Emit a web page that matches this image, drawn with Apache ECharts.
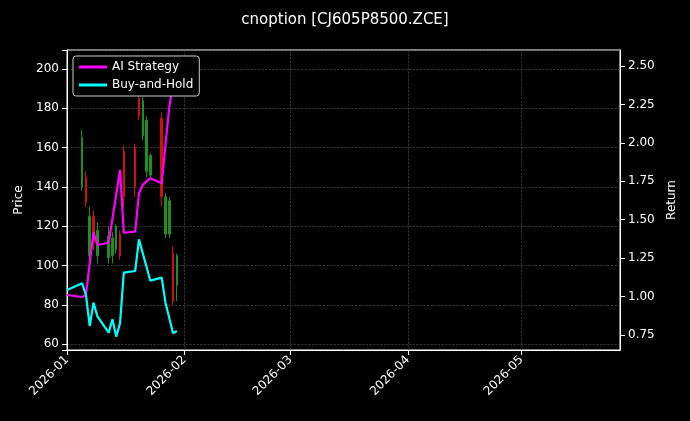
<!DOCTYPE html>
<html>
<head>
<meta charset="utf-8">
<script src="https://cdn.jsdelivr.net/npm/echarts@6/dist/echarts.min.js"></script>
<style>html,body{margin:0;background:#000}#main{width:690px;height:421px}</style>
</head>
<body>
<div id="main"></div>
<script>
// K线数据 [日期, 开, 收, 低, 高]
var candleDates = ['2026-01-05','2026-01-06','2026-01-07','2026-01-08','2026-01-09','2026-01-12','2026-01-13','2026-01-14','2026-01-15','2026-01-16','2026-01-19','2026-01-20','2026-01-21','2026-01-22','2026-01-23','2026-01-26','2026-01-27','2026-01-28','2026-01-29','2026-01-30'];
var candleOpen  = [140,145,105,125,105,104,105,108,116,158,160,185,166,148,146,175,116,116,106,90];
var candleClose = [165,132,125,112,118,115,114,120,105,135,140,176,184,174,156,135,135,133,82,105];
var candleLow   = [138,130,101,108,101,101,101,106,103,130,135,174,164,145,145,130,114,114,80,82];
var candleHigh  = [169,148,130,128,122,120,117,121,118,161,162,188,186,176,157,178,137,135,110,106];
// 策略收益
var aiDates = ['2026-01-01','2026-01-05','2026-01-06','2026-01-08','2026-01-09','2026-01-12','2026-01-15','2026-01-16','2026-01-19','2026-01-20','2026-01-21','2026-01-23','2026-01-26','2026-01-28','2026-01-30'];
var aiVals  = [1.01,0.997,1.01,1.42,1.335,1.35,1.823,1.415,1.422,1.672,1.726,1.77,1.737,2.235,2.52];
// 买入持有收益
var bhDates = ['2026-01-01','2026-01-05','2026-01-06','2026-01-07','2026-01-08','2026-01-09','2026-01-12','2026-01-13','2026-01-14','2026-01-15','2026-01-16','2026-01-19','2026-01-20','2026-01-23','2026-01-26','2026-01-27','2026-01-29','2026-01-30'];
var bhVals  = [1.043,1.086,1.01,0.808,0.96,0.873,0.765,0.852,0.739,0.826,1.155,1.166,1.372,1.103,1.123,0.96,0.761,0.776];
// 右轴刻度
var returnTicks = [0.75,1.00,1.25,1.50,1.75,2.00,2.25,2.50];

function zip(d, v){ var r=[]; for(var i=0;i<d.length;i++){ r.push([d[i], v[i]]); } return r; }
var candles = [];
for (var i=0;i<candleDates.length;i++){
    candles.push([candleDates[i], candleOpen[i], candleClose[i], candleLow[i], candleHigh[i]]);
}

var myChart = echarts.init(document.getElementById('main'));
var gridLine = {show:true, lineStyle:{color:'#555', type:'dashed', width:0.6}};
var option = {
    backgroundColor:'#000',
    animation:false,
    textStyle:{fontFamily:'DejaVu Sans'},
    title:{text:'cnoption [CJ605P8500.ZCE]', left:'center', top:8,
        textStyle:{color:'#fff', fontSize:15, fontWeight:'normal', fontFamily:'DejaVu Sans'}},
    legend:{left:73, top:56, z:20, orient:'vertical', itemGap:6, itemWidth:28, itemHeight:3,
        backgroundColor:'#000', borderColor:'#ccc', borderWidth:1, borderRadius:3, padding:[5,6],
        textStyle:{color:'#fff', fontSize:12},
        data:[{name:'AI Strategy', icon:'rect'},{name:'Buy-and-Hold', icon:'rect'}]},
    grid:{left:67, right:70, top:50, bottom:71, show:true, borderColor:'#fff', borderWidth:1},
    xAxis:{type:'time', min:'2026-01-01', max:'2026-05-27',
        minInterval:28*86400000, maxInterval:31*86400000,
        axisLine:{lineStyle:{color:'#fff'}}, axisTick:{lineStyle:{color:'#fff'}},
        axisLabel:{color:'#fff', fontSize:12, rotate:45, formatter:'{yyyy}-{MM}', hideOverlap:false},
        splitLine:gridLine},
    yAxis:[
        {type:'value', name:'Price', nameLocation:'middle', nameGap:40, nameTextStyle:{color:'#fff', fontSize:12},
         min:57, max:209.7, splitNumber:8,
         axisLine:{show:true, lineStyle:{color:'#fff'}}, axisTick:{show:true, lineStyle:{color:'#fff'}},
         axisLabel:{color:'#fff', fontSize:12, formatter:function(v){ return Math.abs(v%20)<1e-6 ? String(v) : ''; }},
         splitLine:gridLine},
        {type:'value', name:'Return', nameLocation:'middle', nameGap:42, nameRotate:90, nameTextStyle:{color:'#fff', fontSize:12},
         min:0.652, max:2.604,
         axisLine:{show:true, lineStyle:{color:'#fff'}},
         axisTick:{show:true, customValues:returnTicks, lineStyle:{color:'#fff'}},
         axisLabel:{color:'#fff', fontSize:12, customValues:returnTicks, formatter:function(v){ return v.toFixed(2); }},
         splitLine:{show:false}}
    ],
    series:[
        {type:'candlestick', name:'Price', yAxisIndex:0, barWidth:2, data:candles, z:2,
         itemStyle:{color:'#1f8f1f', color0:'#d01010', borderColor:'#1f8f1f', borderColor0:'#d01010', borderWidth:1}},
        {type:'line', name:'AI Strategy', yAxisIndex:1, data:zip(aiDates, aiVals), showSymbol:false,
         lineStyle:{color:'#ff00ff', width:2.2}, itemStyle:{color:'#ff00ff'}, z:3},
        {type:'line', name:'Buy-and-Hold', yAxisIndex:1, data:zip(bhDates, bhVals), showSymbol:false,
         lineStyle:{color:'#00ffff', width:2.2}, itemStyle:{color:'#00ffff'}, z:3}
    ]
};
myChart.setOption(option);
</script>
</body>
</html>
